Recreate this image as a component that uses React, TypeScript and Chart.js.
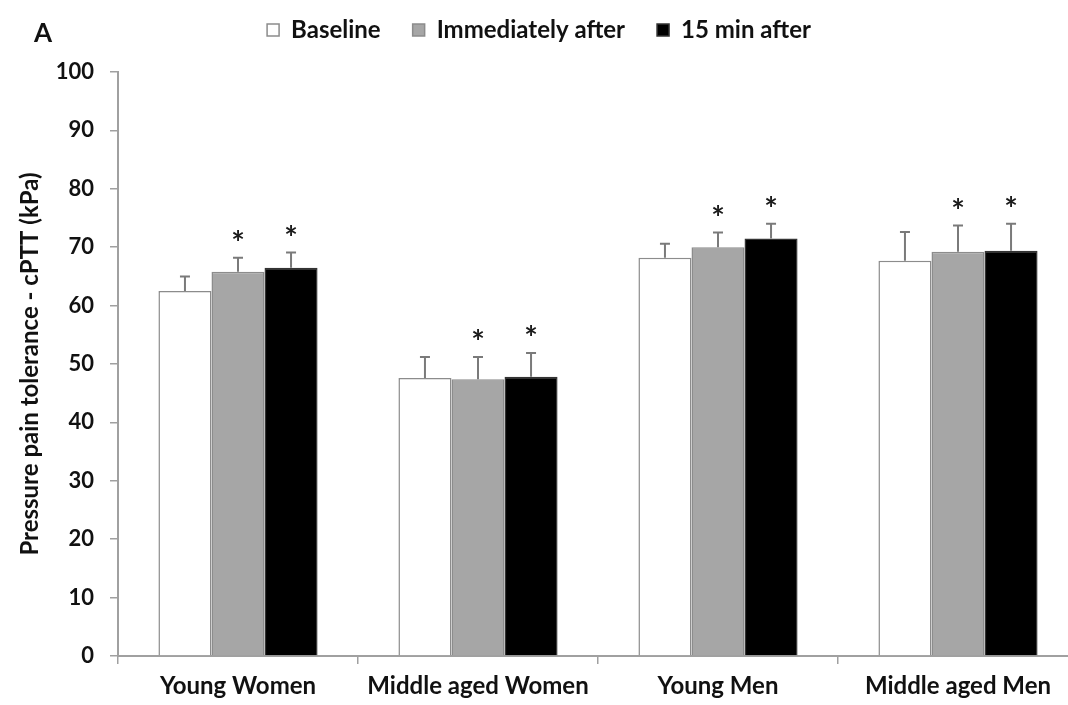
import React, { useEffect, useRef } from "react";
import { Chart, registerables } from "chart.js";

Chart.register(...registerables);

const categories = ["Young Women", "Middle aged Women", "Young Men", "Middle aged Men"];
const seriesNames = ["Baseline", "Immediately after", "15 min after"];
const baseline = [62.5, 47.6, 68.2, 67.7];
const immediatelyAfter = [65.8, 47.4, 70.0, 69.2];
const min15After = [66.5, 47.8, 71.5, 69.4];
const baselineErr = [2.5, 3.6, 2.4, 4.9];
const immediatelyErr = [2.4, 3.8, 2.5, 4.5];
const min15Err = [2.6, 4.1, 2.5, 4.6];
const baselineSig = [false, false, false, false];
const immediatelySig = [true, true, true, true];
const min15Sig = [true, true, true, true];
const yTicks = [0, 10, 20, 30, 40, 50, 60, 70, 80, 90, 100];
const yTitle = "Pressure pain tolerance - cPTT (kPa)";
const panelLabel = "A";

const FONT = "Lato, 'Open Sans', sans-serif";

const errPlugin = {
  id: "errAndStars",
  afterInit(chart: any) {
    const lg = chart.legend;
    if (lg && !lg.__wrapped) {
      const orig = lg.fit.bind(lg);
      lg.fit = function () {
        orig();
        this.height = 86;
      };
      lg.__wrapped = true;
    }
  },
  afterDatasetsDraw(chart: any) {
    const ctx = chart.ctx;
    const y = chart.scales.y;
    chart.data.datasets.forEach((ds: any, di: number) => {
      const meta = chart.getDatasetMeta(di);
      meta.data.forEach((bar: any, i: number) => {
        const v = ds.data[i];
        const e = ds.errors[i];
        const yTop = y.getPixelForValue(v);
        const yCap = y.getPixelForValue(v + e);
        ctx.save();
        ctx.strokeStyle = "#7a7a7a";
        ctx.lineWidth = 2;
        ctx.beginPath();
        ctx.moveTo(bar.x, yTop);
        ctx.lineTo(bar.x, yCap);
        ctx.moveTo(bar.x - 5, yCap);
        ctx.lineTo(bar.x + 5, yCap);
        ctx.stroke();
        if (ds.sig[i]) {
          ctx.fillStyle = "#1a1a1a";
          ctx.font = `bold 32px ${FONT}`;
          ctx.textAlign = "center";
          ctx.textBaseline = "middle";
          ctx.fillText("*", bar.x, yCap - 13);
        }
        ctx.restore();
      });
    });
  },
  afterDraw(chart: any) {
    const ctx = chart.ctx;
    ctx.save();
    ctx.fillStyle = "#111";
    ctx.font = `bold 26px ${FONT}`;
    ctx.textAlign = "left";
    ctx.textBaseline = "middle";
    ctx.fillText(panelLabel, 34, 34);
    ctx.restore();
  },
};

export default function App() {
  const ref = useRef<HTMLCanvasElement | null>(null);
  useEffect(() => {
    if (!ref.current) return;
    const chart = new Chart(ref.current, {
      type: "bar",
      data: {
        labels: categories,
        datasets: [
          {
            label: seriesNames[0],
            data: baseline,
            errors: baselineErr,
            sig: baselineSig,
            backgroundColor: "#ffffff",
            borderColor: "#8c8c8c",
            borderWidth: 1.5,
          } as any,
          {
            label: seriesNames[1],
            data: immediatelyAfter,
            errors: immediatelyErr,
            sig: immediatelySig,
            backgroundColor: "#a6a6a6",
            borderColor: "#8c8c8c",
            borderWidth: 1.5,
          } as any,
          {
            label: seriesNames[2],
            data: min15After,
            errors: min15Err,
            sig: min15Sig,
            backgroundColor: "#000000",
            borderColor: "#333333",
            borderWidth: 1.5,
          } as any,
        ],
      },
      options: {
        responsive: false,
        animation: false,
        devicePixelRatio: 1,
        layout: { padding: { left: 0, right: 4, top: -14, bottom: 0 } },
        datasets: { bar: { barPercentage: 1, categoryPercentage: 0.663 } } as any,
        plugins: {
          legend: {
            display: true,
            position: "top",
            labels: {
              boxWidth: 12,
              boxHeight: 12,
              padding: 32,
              color: "#111",
              font: { family: FONT, size: 24, weight: "bold" },
            },
          },
          tooltip: { enabled: false },
          title: { display: false },
        },
        scales: {
          x: {
            offset: true,
            grid: {
              display: true,
              drawOnChartArea: false,
              drawTicks: true,
              tickLength: 8,
              color: "#a0a0a0",
              lineWidth: 1.5,
              offset: true,
            },
            border: { display: true, color: "#a0a0a0", width: 2 },
            ticks: {
              color: "#111",
              padding: 8,
              font: { family: FONT, size: 24, weight: "bold" },
              maxRotation: 0,
            },
            afterFit(scale: any) {
              scale.height = 49;
            },
          },
          y: {
            min: 0,
            max: 100,
            afterBuildTicks(scale: any) {
              scale.ticks = yTicks.map((v) => ({ value: v }));
            },
            grid: {
              display: true,
              drawOnChartArea: false,
              drawTicks: true,
              tickLength: 8,
              color: "#a0a0a0",
              lineWidth: 1.5,
            },
            border: { display: true, color: "#a0a0a0", width: 2 },
            ticks: {
              color: "#111",
              padding: 16,
              font: { family: FONT, size: 22, weight: "bold" },
            },
            title: {
              display: true,
              text: yTitle,
              color: "#111",
              font: { family: FONT, size: 24, weight: "bold" },
              padding: { top: 16, bottom: 0 },
            },
            afterFit(scale: any) {
              scale.width = 118;
            },
          },
        },
      } as any,
      plugins: [errPlugin],
    });
    return () => chart.destroy();
  }, []);
  return (
    <div
      style={{
        position: "fixed",
        left: 0,
        top: 0,
        width: 1068,
        height: 705,
        overflow: "hidden",
        background: "#fff",
      }}
    >
      <canvas ref={ref} width={1082} height={705} style={{ display: "block" }} />
    </div>
  );
}
